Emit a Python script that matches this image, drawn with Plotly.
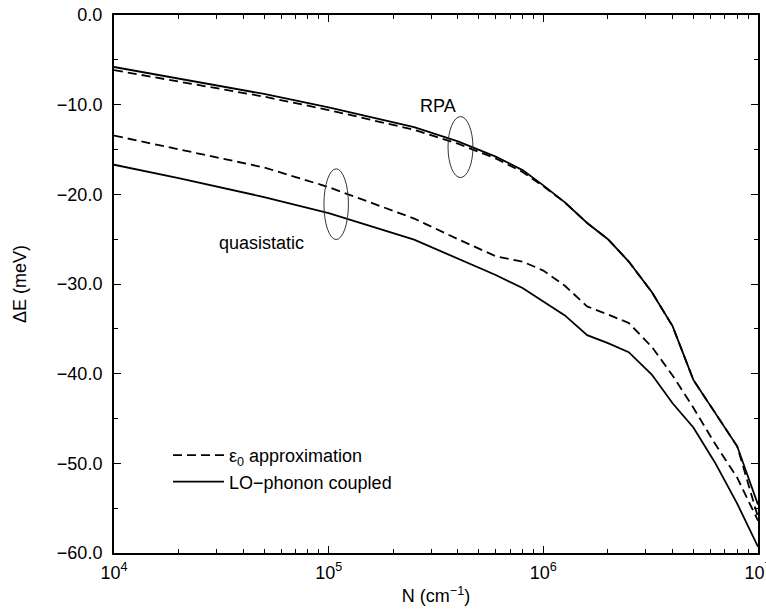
import plotly.graph_objects as go

# ---- data ----
N = [1e4, 2e4, 5e4, 1e5, 2.5e5, 4e5, 6e5, 8e5, 1e6, 1.26e6, 1.6e6, 2e6,
     2.5e6, 3.2e6, 4e6, 5e6, 6.3e6, 8e6, 1e7]

# RPA, LO-phonon coupled (solid)
lo_rpa = [-5.8, -7.1, -8.8, -10.3, -12.5, -14.1, -15.8, -17.3, -19.0, -20.9,
          -23.2, -25.0, -27.5, -30.9, -34.7, -40.7, -44.3, -48.1, -54.6]
# RPA, eps0 approximation (dashed)
eps_rpa = [-6.15, -7.4, -9.1, -10.6, -12.8, -14.35, -16.0, -17.5, -19.1, -20.9,
           -23.2, -25.0, -27.5, -30.9, -34.7, -40.7, -44.3, -48.1, -56.0]
# quasistatic, eps0 approximation (dashed)
eps_qs = [-13.45, -14.95, -17.0, -19.2, -22.7, -25.0, -26.9, -27.5, -28.5, -30.2,
          -32.5, -33.4, -34.35, -37.0, -40.2, -43.8, -47.8, -51.6, -56.4]
# quasistatic, LO-phonon coupled (solid)
lo_qs = [-16.7, -18.2, -20.3, -22.1, -25.05, -27.2, -29.0, -30.45, -31.9, -33.5,
         -35.7, -36.6, -37.6, -40.1, -43.3, -46.0, -49.9, -54.5, -59.3]

x_tickvals = [1e4, 1e5, 1e6, 1e7]
x_ticktext = ["10<sup>4</sup>", "10<sup>5</sup>", "10<sup>6</sup>", "10<sup>7</sup>"]
x_minor = [m * 10 ** e for e in (4, 5, 6) for m in range(2, 10)]
y_tickvals = [0, -10, -20, -30, -40, -50, -60]

FONT = "Liberation Sans, Arial, Helvetica, sans-serif"

fig = go.Figure()
dash = "9px,5px"
fig.add_trace(go.Scatter(x=N, y=eps_rpa, mode="lines", name="ε<sub>0</sub> approximation",
                         line=dict(color="black", width=1.8, dash=dash)))
fig.add_trace(go.Scatter(x=N, y=eps_qs, mode="lines", name="ε0 quasistatic", showlegend=False,
                         line=dict(color="black", width=1.8, dash=dash)))
fig.add_trace(go.Scatter(x=N, y=lo_rpa, mode="lines", name="LO−phonon coupled",
                         line=dict(color="black", width=1.8)))
fig.add_trace(go.Scatter(x=N, y=lo_qs, mode="lines", name="LO quasistatic", showlegend=False,
                         line=dict(color="black", width=1.8)))

# ellipses marking the groups
ell = [  # (log10 centre x, half-width in decades, centre y, half-height)
    (5.614, 0.058, -14.73, 3.4),
    (5.035, 0.057, -21.1, 3.94),
]
for cx, hw, cy, hh in ell:
    fig.add_shape(type="circle", xref="x", yref="y",
                  x0=10 ** (cx - hw), x1=10 ** (cx + hw), y0=cy - hh, y1=cy + hh,
                  line=dict(color="#333333", width=1))

fig.add_annotation(x=5.509, y=-10.2, xref="x", yref="y", text="RPA", showarrow=False,
                   font=dict(size=18, color="black", family=FONT))
fig.add_annotation(x=4.685, y=-25.4, xref="x", yref="y", text="quasistatic", showarrow=False,
                   font=dict(size=18, color="black", family=FONT))

axis_common = dict(showline=True, linecolor="black", linewidth=2, mirror="ticks",
                   ticks="inside", ticklen=7, tickwidth=1.2, tickcolor="black",
                   showgrid=False, zeroline=False, automargin=False,
                   ticklabeloverflow="allow",
                   tickfont=dict(size=18, color="black", family=FONT))

fig.update_xaxes(type="log", range=[4, 7], tickvals=x_tickvals, ticktext=x_ticktext,
                 minor=dict(tickvals=x_minor, ticks="inside", ticklen=4, tickwidth=1,
                            tickcolor="black", showgrid=False),
                 title=dict(text="N (cm<sup>−1</sup>)", font=dict(size=18, color="black", family=FONT),
                            standoff=8),
                 ticklabelstandoff=2,
                 **axis_common)
fig.update_yaxes(range=[-60, 0], tickvals=y_tickvals, tickformat=".1f",
                 minor=dict(dtick=5, ticks="inside", ticklen=4, tickwidth=1,
                            tickcolor="black", showgrid=False),
                 title=dict(text="ΔE (meV)", font=dict(size=18, color="black", family=FONT),
                            standoff=26),
                 ticklabelstandoff=6,
                 **axis_common)

fig.update_layout(
    width=766, height=609,
    margin=dict(l=114, r=8, t=15, b=56, autoexpand=False),
    paper_bgcolor="white", plot_bgcolor="white",
    font=dict(family=FONT, color="black", size=18),
    legend=dict(x=(168 - 114) / 644, y=(553 - 437) / 538, xanchor="left", yanchor="top",
                bgcolor="rgba(0,0,0,0)", borderwidth=0, itemwidth=51,
                font=dict(size=18, color="black", family=FONT), tracegroupgap=0),
    showlegend=True,
)

# remove the default 8px page margin so the figure fills the window exactly
fig.write_html("out.html", config={"displayModeBar": False},
               post_script="document.body.style.margin='0';")
